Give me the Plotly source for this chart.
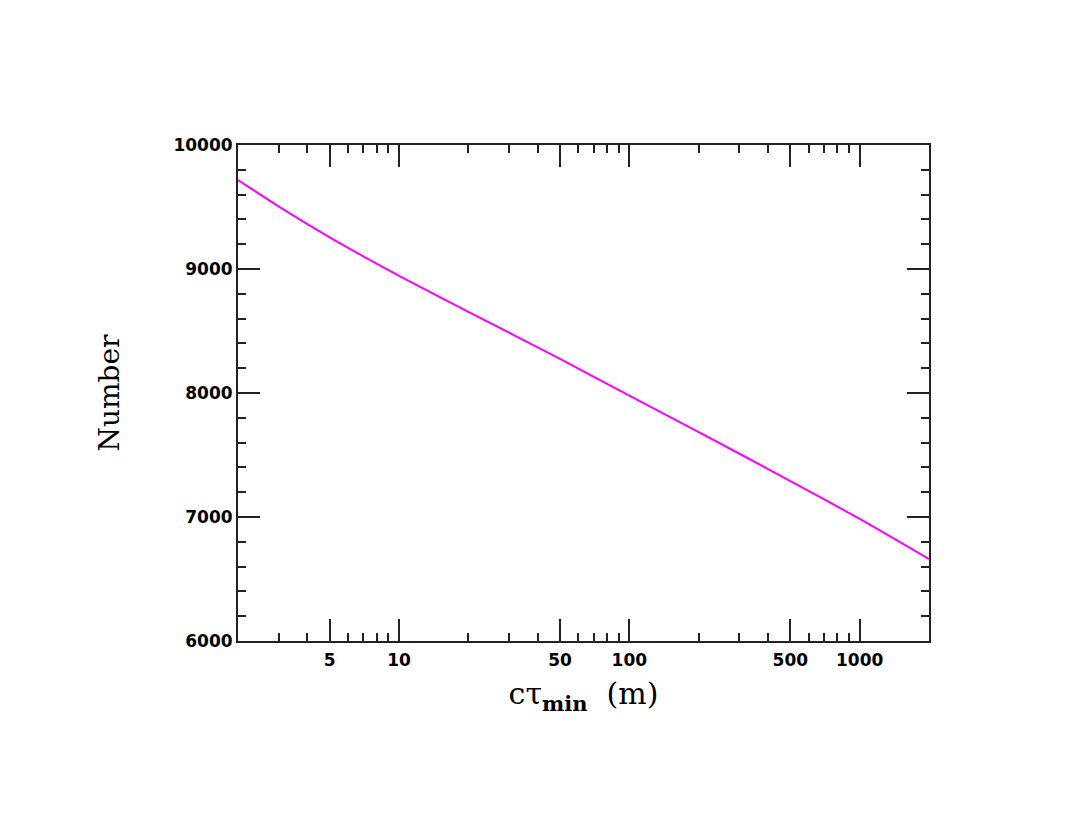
"""
Number vs c*tau_min, log x axis.
"""
import math
import plotly.graph_objects as go

# values
ctau_min = [2, 3, 5, 10, 20, 50, 100, 200, 500, 1000, 2000]
number = [9718, 9505, 9255, 8945, 8655, 8275, 7978, 7685, 7290, 6985, 6661]

x_major = [5, 10, 50, 100, 500, 1000]
x_major_text = ['5', '10', '50', '100', '500', '1000']
x_minor = [3, 4, 6, 7, 8, 9, 20, 30, 40, 60, 70, 80, 90,
           200, 300, 400, 600, 700, 800, 900]
y_major = [6000, 7000, 8000, 9000, 10000]
y_major_text = ['6000', '7000', '8000', '9000', '10000']

AXIS_COLOR = '#222222'
TICK_FONT = dict(family='DejaVu Sans', size=17, color='black', weight='bold')
YTITLE_FONT = dict(family='DejaVu Serif', size=28, color='black')
XTITLE_FONT = dict(family='DejaVu Serif', size=30, color='black')

fig = go.Figure()

fig.add_trace(go.Scatter(
    x=ctau_min,
    y=number,
    mode='lines',
    line=dict(color='#FF00FF', width=2, shape='spline', smoothing=0.6),
    showlegend=False
))

# the page body adds 8px, so margins are 8px smaller than the picture offsets
fig.update_layout(
    width=1066,
    height=824,
    margin=dict(l=230, r=145, t=137, b=191),
    paper_bgcolor='white',
    plot_bgcolor='white',
    xaxis=dict(
        type='log',
        range=[math.log10(2), math.log10(2000)],
        tickmode='array',
        tickvals=x_major,
        ticktext=x_major_text,
        ticks='inside',
        ticklen=22,
        tickwidth=2,
        tickcolor=AXIS_COLOR,
        minor=dict(tickmode='array', tickvals=x_minor, ticks='inside',
                   ticklen=8, tickwidth=2, tickcolor=AXIS_COLOR, showgrid=False),
        showline=True,
        linecolor=AXIS_COLOR,
        linewidth=2,
        mirror='ticks',
        showgrid=False,
        zeroline=False,
        tickfont=TICK_FONT,
        ticklabelstandoff=3,
        title=dict(text='cτ<sub><b>min</b></sub>  (m)', font=XTITLE_FONT, standoff=14),
    ),
    yaxis=dict(
        range=[6000, 10000],
        tickmode='array',
        tickvals=y_major,
        ticktext=y_major_text,
        ticks='inside',
        ticklen=22,
        tickwidth=2,
        tickcolor=AXIS_COLOR,
        minor=dict(dtick=200, ticks='inside', ticklen=8, tickwidth=2,
                   tickcolor=AXIS_COLOR, showgrid=False),
        showline=True,
        linecolor=AXIS_COLOR,
        linewidth=2,
        mirror='ticks',
        showgrid=False,
        zeroline=False,
        tickfont=TICK_FONT,
        title=dict(text='Number', font=YTITLE_FONT, standoff=46),
    ),
)

fig.write_html("out.html")
